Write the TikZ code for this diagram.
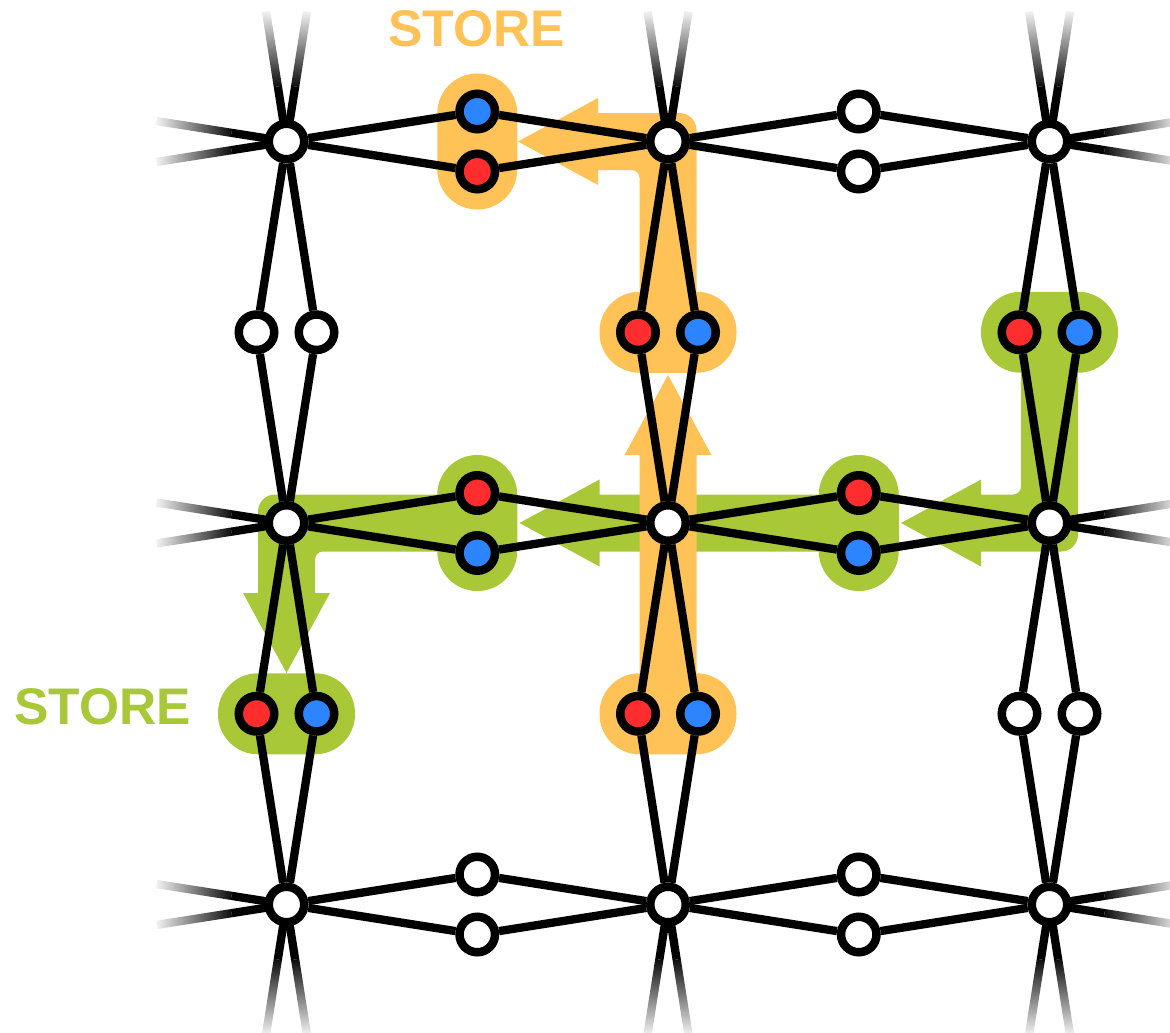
\documentclass[tikz,border=0pt]{standalone}
\usepackage{fontspec}
\setmainfont{Liberation Sans}
\usetikzlibrary{fadings,calc}
\definecolor{ora}{RGB}{254,194,86}
\definecolor{grn}{RGB}{169,200,56}
\definecolor{rd}{RGB}{255,45,45}
\definecolor{bl}{RGB}{45,132,255}
\tikzfading[name=fadeL, left color=transparent!100, right color=transparent!0]
\tikzfading[name=fadeR, left color=transparent!0, right color=transparent!100]
\tikzfading[name=fadeU, top color=transparent!100, bottom color=transparent!0]
\tikzfading[name=fadeD, top color=transparent!0, bottom color=transparent!100]
\pgfdeclarelayer{blobs}
\pgfdeclarelayer{lines}
\pgfsetlayers{blobs,lines,main}
\begin{document}
\begin{tikzpicture}[x=1pt,y=1pt,
  edge/.style={line width=8.3pt},
  site/.style={circle, draw=black, line width=8.5pt, minimum size=35.5pt, inner sep=0pt, fill=white},
  redsite/.style={site, fill=rd},
  bluesite/.style={site, fill=bl},
  capsule/.style={rounded corners=39.9pt},
  labeltext/.style={font=\fontsize{51.5}{60}\selectfont\bfseries, inner sep=0pt}]
\useasboundingbox (0,0) rectangle (1170,-1033);

% junctions
\foreach \c in {0,1,2}{
  \foreach \r in {0,1,2}{
    \node[site] (J\c\r) at ({286.5+381.5*\c},{-(141.5+381.5*\r)}) {};
  }
}

% mid sites on horizontal edges
\node[bluesite] (H00a) at (477.25,-111.5) {};
\node[redsite]  (H00b) at (477.25,-171.5) {};
\node[site]     (H10a) at (858.75,-111.5) {};
\node[site]     (H10b) at (858.75,-171.5) {};
\node[redsite]  (H01a) at (477.25,-493) {};
\node[bluesite] (H01b) at (477.25,-553) {};
\node[redsite]  (H11a) at (858.75,-493) {};
\node[bluesite] (H11b) at (858.75,-553) {};
\node[site]     (H02a) at (477.25,-874.5) {};
\node[site]     (H02b) at (477.25,-934.5) {};
\node[site]     (H12a) at (858.75,-874.5) {};
\node[site]     (H12b) at (858.75,-934.5) {};
% mid sites on vertical edges
\node[site]     (V00a) at (256.5,-332.25) {};
\node[site]     (V00b) at (316.5,-332.25) {};
\node[redsite]  (V01a) at (256.5,-713.75) {};
\node[bluesite] (V01b) at (316.5,-713.75) {};
\node[redsite]  (V10a) at (638,-332.25) {};
\node[bluesite] (V10b) at (698,-332.25) {};
\node[redsite]  (V11a) at (638,-713.75) {};
\node[bluesite] (V11b) at (698,-713.75) {};
\node[redsite]  (V20a) at (1019.5,-332.25) {};
\node[bluesite] (V20b) at (1079.5,-332.25) {};
\node[site]     (V21a) at (1019.5,-713.75) {};
\node[site]     (V21b) at (1079.5,-713.75) {};

% highlights
\begin{pgfonlayer}{blobs}
% green
\fill[grn] (1021,-332.25) -- (1078,-332.25) -- (1078,-534.5) arc[start angle=0, end angle=-90, radius=17]
  -- (981,-551.5) -- (981,-566.5) -- (901,-523) -- (981,-479.5) -- (981,-494.5) -- (1013,-494.5)
  arc[start angle=-90, end angle=0, radius=8] -- cycle;
\fill[grn] (858.75,-494.5) -- (599.5,-494.5) -- (599.5,-479.5) -- (519.5,-523) -- (599.5,-566.5)
  -- (599.5,-551.5) -- (858.75,-551.5) -- cycle;
\fill[grn] (477.25,-494.5) -- (275,-494.5) arc[start angle=90, end angle=180, radius=17]
  -- (258,-593) -- (243,-593) -- (286.5,-673) -- (330,-593) -- (315,-593) -- (315,-559.5)
  arc[start angle=180, end angle=90, radius=8] -- (477.25,-551.5) -- cycle;
\fill[grn, capsule] (437.25,-591) rectangle (517.25,-455);
\fill[grn, capsule] (818.75,-591) rectangle (898.75,-455);
\fill[grn, capsule] (981,-372.75) rectangle (1118,-291.75);
\fill[grn, capsule] (218,-754.25) rectangle (355,-673.25);
% orange
\fill[ora] (639.5,-332.25) -- (696.5,-332.25) -- (696.5,-130) arc[start angle=0, end angle=90, radius=17]
  -- (598,-113) -- (598,-98) -- (518,-141.5) -- (598,-185) -- (598,-170) -- (631.5,-170)
  arc[start angle=90, end angle=0, radius=8] -- cycle;
\fill[ora] (639.5,-713.75) -- (696.5,-713.75) -- (696.5,-455) -- (711.5,-455) -- (668,-375)
  -- (624.5,-455) -- (639.5,-455) -- cycle;
\fill[ora, capsule] (437.25,-209.5) rectangle (517.25,-73.5);
\fill[ora, capsule] (599.5,-372.75) rectangle (736.5,-291.75);
\fill[ora, capsule] (599.5,-754.25) rectangle (736.5,-673.25);
\end{pgfonlayer}

% bonds
\begin{pgfonlayer}{lines}
\foreach \c/\d/\r in {0/1/0,1/2/0,0/1/1,1/2/1,0/1/2,1/2/2}{
  \draw[edge] (J\c\r) -- (H\c\r a) -- (J\d\r);
  \draw[edge] (J\c\r) -- (H\c\r b) -- (J\d\r);
}
\foreach \c/\r/\s in {0/0/1,0/1/2,1/0/1,1/1/2,2/0/1,2/1/2}{
  \draw[edge] (J\c\r) -- (V\c\r a) -- (J\c\s);
  \draw[edge] (J\c\r) -- (V\c\r b) -- (J\c\s);
}
% fading stubs at the border
\foreach \j in {00,01,02}{
  \foreach \s in {1,-1}{
    \draw[edge] (J\j.center) -- ++(-55,8.65*\s) coordinate (st);
    \draw[edge, path fading=fadeL] (st) -- ++(-75,11.8*\s);
  }
}
\foreach \j in {20,21,22}{
  \foreach \s in {1,-1}{
    \draw[edge] (J\j.center) -- ++(55,8.65*\s) coordinate (st);
    \draw[edge, path fading=fadeR] (st) -- ++(75,11.8*\s);
  }
}
\foreach \j in {00,10,20}{
  \foreach \s in {1,-1}{
    \draw[edge] (J\j.center) -- ++(8.65*\s,55) coordinate (st);
    \draw[edge, path fading=fadeU] (st) -- ++(11.8*\s,75);
  }
}
\foreach \j in {02,12,22}{
  \foreach \s in {1,-1}{
    \draw[edge] (J\j.center) -- ++(8.65*\s,-55) coordinate (st);
    \draw[edge, path fading=fadeD] (st) -- ++(11.8*\s,-75);
  }
}
\end{pgfonlayer}

% labels
\node[labeltext, text=ora] (storeTop) at (476.5,-29) {STORE};
\node[labeltext, text=grn] (storeLeft) at (102.5,-706.5) {STORE};
\end{tikzpicture}
\end{document}
